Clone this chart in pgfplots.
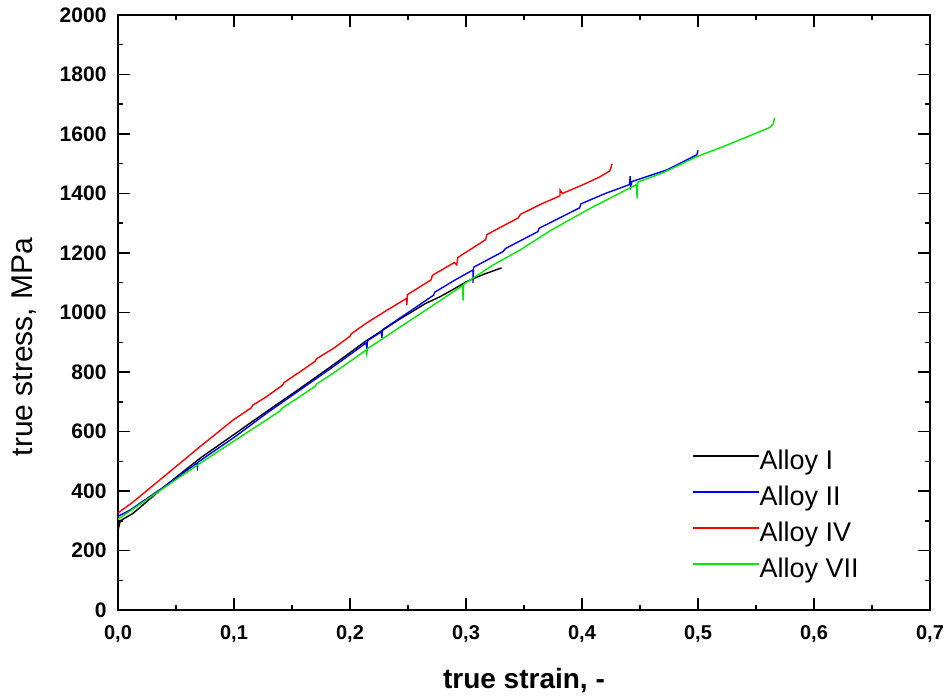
\documentclass[border=0pt]{standalone}
\usepackage{pgfplots}
\pgfplotsset{compat=1.18}
\usepackage{fontspec}
\setmainfont{Liberation Sans}
\definecolor{cgreen}{RGB}{0,235,0}
\begin{document}
\begin{tikzpicture}
\useasboundingbox (-118pt,-89pt) rectangle (829pt,610pt);
\begin{axis}[
  at={(0,0)}, anchor=south west,
  scale only axis, width=812pt, height=595pt,
  xmin=0, xmax=0.7, ymin=0, ymax=2000,
  xtick={0,0.1,...,0.71}, ytick={0,200,...,2000},
  minor x tick num=1, minor y tick num=1,
  tick align=inside, tick pos=both,
  major tick length=12pt, minor tick length=5.5pt,
  every tick/.style={black, line width=1.5pt},
  axis line style={line width=1.8pt},
  /pgf/number format/assume math mode=true,
  xticklabel style={font=\fontsize{20}{24}\selectfont\bfseries, yshift=-12pt,
     /pgf/number format/.cd, use comma, fixed, fixed zerofill, precision=1},
  yticklabel style={font=\fontsize{21}{24}\selectfont\bfseries, xshift=-8pt,
     /pgf/number format/.cd, 1000 sep={}},
  xlabel={true strain, -},
  ylabel={true stress, MPa},
  xlabel style={font=\fontsize{28}{32}\selectfont\bfseries, at={(axis description cs:0.5,-0.118)}, anchor=center},
  ylabel style={font=\fontsize{30}{34}\selectfont, at={(axis description cs:-0.1158,0.442)}, anchor=center},
  legend cell align=left,
  legend style={draw=none, fill=none, inner sep=0pt, at={(axis description cs:0.7069,0.2694)}, anchor=north west,
    font=\fontsize{27}{30}\selectfont, row sep=10pt,
    nodes={inner sep=0pt, text height=20pt, text depth=6pt}},
  legend image code/.code={\draw[#1] (0pt,7pt) -- (66pt,7pt);},
  /tikz/every even column/.append style={column sep=9pt},
  every axis plot/.append style={line width=1.4pt},
]
% Alloy I
\addplot[black] coordinates {
(0,268) (0.002,300) (0.013,325) (0.04,415) (0.0707,510) (0.10,590) (0.128,667)
(0.157,745) (0.1856,824) (0.214,905) (0.243,978) (0.265,1030) (0.2776,1053)
(0.29,1080) (0.3006,1104) (0.315,1128) (0.3307,1150)};
\addlegendentry{Alloy I}
% Alloy II
\addplot[blue] coordinates {
(0,315) (0.01,335) (0.04,415) (0.0678,493) (0.0685,480) (0.069,497) (0.10,580)
(0.128,661) (0.157,740) (0.1856,818) (0.214,898) (0.2145,873) (0.215,905)
(0.227,935) (0.2275,915) (0.228,942) (0.249,997) (0.272,1058) (0.273,1068)
(0.29,1108) (0.306,1143) (0.306,1100) (0.3065,1152) (0.332,1205) (0.334,1215)
(0.362,1272) (0.363,1283) (0.398,1352) (0.399,1365) (0.42,1400) (0.441,1430)
(0.4415,1458) (0.442,1425) (0.443,1440) (0.473,1479) (0.499,1530) (0.5,1545)};
\addlegendentry{Alloy II}
% Alloy IV
\addplot[red] coordinates {
(0,325) (0.003,335) (0.012,360) (0.036,437) (0.0707,549) (0.0994,639)
(0.115,680) (0.116,688) (0.128,717) (0.142,756) (0.143,764)
(0.157,801) (0.17,836) (0.171,844) (0.1856,879) (0.2,920) (0.201,928)
(0.214,964) (0.232,1008) (0.249,1048) (0.249,1025)
(0.2495,1060) (0.27,1110) (0.271,1125) (0.29,1168) (0.292,1160) (0.293,1185)
(0.317,1245) (0.318,1262) (0.345,1318) (0.347,1330) (0.365,1365) (0.381,1392)
(0.381,1412) (0.383,1400) (0.40,1428) (0.415,1455) (0.424,1476) (0.426,1500)};
\addlegendentry{Alloy IV}
% Alloy VII
\addplot[cgreen] coordinates {
(0,305) (0.005,318) (0.03,385) (0.0707,493) (0.10,568) (0.128,639)
(0.14,670) (0.141,677) (0.157,718) (0.17,752) (0.171,759)
(0.1856,796) (0.214,874) (0.2145,860) (0.215,878) (0.249,966) (0.27,1020)
(0.297,1090) (0.2975,1040) (0.298,1095) (0.3235,1160) (0.3466,1210) (0.3735,1277)
(0.407,1350) (0.447,1430) (0.4475,1384) (0.448,1438) (0.47,1470) (0.499,1524)
(0.52,1555) (0.539,1585) (0.562,1622) (0.565,1635) (0.566,1655)};
\addlegendentry{Alloy VII}
\end{axis}
\end{tikzpicture}
\end{document}
